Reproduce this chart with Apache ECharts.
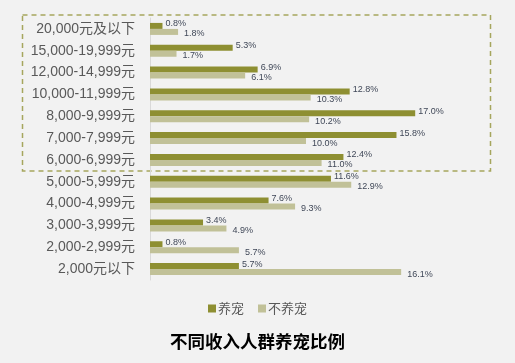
<!DOCTYPE html>
<html><head><meta charset="utf-8">
<script src="https://cdn.jsdelivr.net/npm/echarts@6/dist/echarts.min.js"></script>
<style>html,body{margin:0;padding:0;background:#f2f2f2;}#c{width:515px;height:363px;}</style>
</head><body><div id="c"></div>
<script>
const categories = ['20,000元及以下','15,000-19,999元','12,000-14,999元','10,000-11,999元','8,000-9,999元','7,000-7,999元','6,000-6,999元','5,000-5,999元','4,000-4,999元','3,000-3,999元','2,000-2,999元','2,000元以下'];
const petOwners = [0.8, 5.3, 6.9, 12.8, 17.0, 15.8, 12.4, 11.6, 7.6, 3.4, 0.8, 5.7];
const nonOwners = [1.8, 1.7, 6.1, 10.3, 10.2, 10.0, 11.0, 12.9, 9.3, 4.9, 5.7, 16.1];
const seriesNames = ['养宠', '不养宠'];
const titleText = '不同收入人群养宠比例';

const chart = echarts.init(document.getElementById('c'));
const labelBase = {show: true, position: 'right', fontSize: 9, color: '#404858', fontFamily: 'Liberation Sans, Arial, sans-serif', formatter: p => p.value.toFixed(1) + '%'};
chart.setOption({
  backgroundColor: '#f2f2f2',
  animation: false,
  title: {text: titleText, left: 'center', top: 328, textStyle: {fontSize: 17.5, fontWeight: 'bold', color: '#000', fontFamily: 'Noto Sans CJK SC'}},
  legend: {data: seriesNames, left: 'center', top: 297, itemWidth: 8, itemHeight: 8, itemGap: 14, icon: 'rect',
    textStyle: {fontSize: 13, color: '#595959', fontFamily: 'Noto Sans CJK SC', padding: [0,0,0,-3]}},
  grid: {left: 150, top: 18, width: 312, height: 262, containLabel: false},
  xAxis: {type: 'value', min: 0, max: 20, show: false},
  yAxis: {type: 'category', data: categories, inverse: true,
    axisLine: {show: true, lineStyle: {color: '#d9d9d9', width: 1}},
    axisTick: {show: false},
    axisLabel: {fontSize: 14, color: '#595959', margin: 15, fontFamily: 'Liberation Sans, Noto Sans CJK SC'}},
  graphic: [{type: 'rect', shape: {x: 22.5, y: 15, width: 468, height: 156}, silent: true,
    style: {fill: 'none', stroke: '#a6a65e', lineWidth: 1.5, lineDash: [5, 4]}}],
  series: [
    {name: seriesNames[0], type: 'bar', data: petOwners, barWidth: 6, barGap: '0%',
      itemStyle: {color: '#8e8f32'}, label: Object.assign({}, labelBase, {offset: [0, -2], distance: 3})},
    {name: seriesNames[1], type: 'bar', data: nonOwners, barWidth: 6, barGap: '0%',
      itemStyle: {color: '#c1c198'}, label: Object.assign({}, labelBase, {offset: [0, 2], distance: 6})}
  ]
});
</script></body></html>
